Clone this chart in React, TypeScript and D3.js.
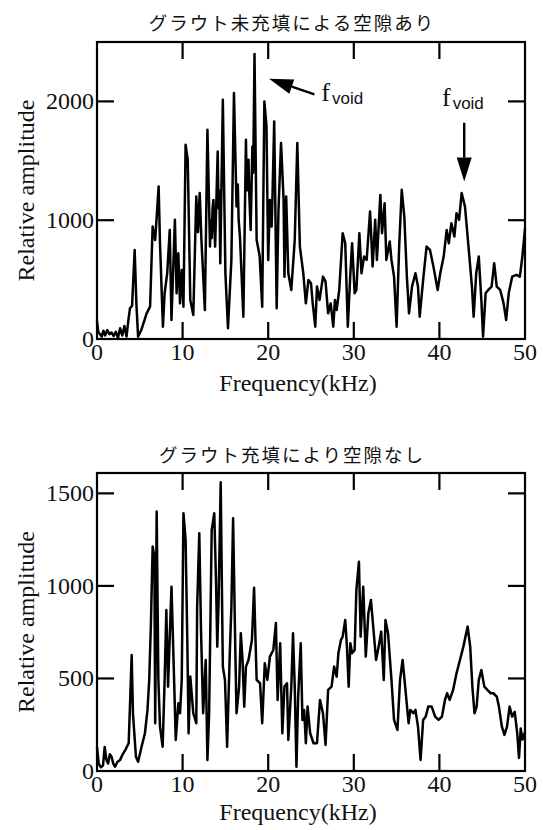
import React from "react";
import * as d3 from "d3";

const topFreq = [0.0,0.15,0.35,0.55,0.75,0.95,1.2,1.45,1.7,1.95,2.2,2.45,2.7,2.95,3.2,3.45,3.65,3.85,4.1,4.4,4.6,4.8,5.2,5.8,6.2,6.5,6.8,7.2,7.36,7.7,7.9,8.2,8.5,8.7,9.1,9.3,9.5,9.7,9.9,10.1,10.35,10.6,10.9,11.25,11.6,11.8,12.0,12.2,12.6,12.9,13.2,13.3,13.4,13.5,13.6,13.7,13.8,14.1,14.2,14.3,14.4,14.7,15.0,15.3,15.7,16.0,16.3,16.45,16.55,16.7,17.1,17.4,17.5,17.55,17.65,17.7,17.8,17.95,18.15,18.25,18.4,18.65,19.0,19.3,19.55,19.8,19.9,20.0,20.2,20.4,20.5,20.7,20.99,21.2,21.5,21.8,21.9,22.1,22.35,22.7,23.1,23.4,23.7,24.1,24.4,24.7,25.0,25.2,25.5,25.7,26.0,26.4,26.7,27.0,27.3,27.6,27.8,28.0,28.3,28.7,29.0,29.3,29.6,29.8,30.1,30.3,30.65,30.9,31.2,31.5,31.9,32.2,32.5,32.7,33.1,33.3,33.6,33.8,34.2,34.4,34.7,35.0,35.3,35.6,35.9,36.2,36.45,36.8,37.2,37.5,37.7,38.1,38.5,38.9,39.3,39.8,40.1,40.5,40.85,41.1,41.4,41.75,42.0,42.3,42.6,42.99,43.4,43.8,44.0,44.3,44.6,44.9,45.1,45.4,45.7,46.1,46.4,46.7,47.1,47.5,47.8,48.1,48.5,49.0,49.4,49.7,50.0];
const topAmp = [150,60,40,20,70,30,75,40,55,25,60,10,90,30,110,20,150,258,280,750,300,20,80,216,272,946,834,1284,806,104,385,553,918,160,1003,385,722,300,581,272,1635,1508,329,202,1199,900,1228,834,244,1761,778,1000,850,1100,1171,950,778,1579,1100,1250,638,2014,553,90,666,2070,1115,1300,1000,862,188,1677,1250,1500,1300,1508,1200,918,1620,1400,2400,834,700,272,2000,1789,1200,666,1171,946,1200,1831,258,1087,1649,1171,525,1199,553,413,834,1649,778,553,300,497,469,300,104,441,329,525,483,216,300,104,329,244,413,890,806,104,553,806,385,413,890,553,694,666,1073,610,1003,666,1213,890,1143,666,820,666,525,104,778,1256,1031,525,216,441,553,441,188,497,778,750,610,413,553,694,918,806,975,862,1059,1003,1228,1115,778,441,188,553,694,329,20,385,413,441,638,441,413,300,160,385,525,540,525,700,930];

const bottomFreq = [0.0,0.2,0.45,0.7,0.9,1.1,1.3,1.5,1.7,1.9,2.1,2.4,2.7,3.0,3.3,3.7,3.85,4.05,4.2,4.55,4.8,5.2,5.6,5.9,6.1,6.3,6.5,6.7,6.8,6.97,7.17,7.36,7.67,7.9,8.1,8.3,8.5,8.7,8.9,9.2,9.5,9.7,9.9,10.1,10.35,10.55,10.7,10.9,11.25,11.6,11.7,11.95,12.15,12.4,12.7,12.9,13.1,13.4,13.7,13.9,14.05,14.2,14.45,14.7,14.95,15.2,15.5,15.7,15.9,16.15,16.3,16.6,16.8,17.0,17.2,17.4,17.7,18.1,18.35,18.65,19.05,19.3,19.6,19.9,20.2,20.6,20.9,21.1,21.4,21.65,21.9,22.2,22.35,22.7,22.9,23.1,23.3,23.5,23.8,24.0,24.2,24.4,24.6,24.9,25.3,25.7,26.05,26.4,26.7,27.0,27.4,27.7,28.0,28.2,28.5,28.7,29.0,29.2,29.4,29.6,29.8,30.1,30.3,30.6,30.8,31.1,31.4,31.7,32.0,32.3,32.6,32.9,33.2,33.5,33.7,34.0,34.4,34.7,35.1,35.4,35.7,36.0,36.4,36.6,36.95,37.2,37.5,37.8,38.1,38.4,38.7,39.1,39.5,39.9,40.3,40.65,40.9,41.2,41.6,42.0,42.4,42.8,43.3,43.6,43.85,44.1,44.35,44.6,44.9,45.25,45.6,46.0,46.3,46.7,46.95,47.3,47.6,47.9,48.2,48.5,48.8,49.1,49.3,49.5,49.7,50.0];
const bottomAmp = [130,40,20,30,130,60,40,90,77,40,23,50,60,90,113,150,348,627,312,77,50,130,204,330,492,798,1213,1159,258,1402,492,240,131,492,870,456,726,996,672,168,366,312,492,1393,1249,708,204,510,312,258,888,1285,762,312,600,60,312,1303,1393,1032,672,906,1560,564,492,131,618,888,1366,672,312,456,744,600,348,564,600,708,990,492,474,258,582,492,618,654,800,384,690,204,456,474,168,456,744,456,23,402,690,276,330,150,348,204,150,150,384,312,141,438,456,564,510,636,708,726,816,672,456,690,636,654,978,1130,726,996,618,852,924,762,600,672,753,492,816,744,492,276,222,492,600,456,258,330,312,330,240,60,276,294,348,348,294,276,294,384,420,384,438,528,600,672,780,672,456,312,348,492,546,456,438,420,420,402,348,240,195,240,348,294,320,200,70,230,170,210];

const xTicks = [0, 10, 20, 30, 40, 50];
const topYTicks = [0, 1000, 2000];
const bottomYTicks = [0, 500, 1000, 1500];
const topTitle = "グラウト未充填による空隙あり";
const bottomTitle = "グラウト充填により空隙なし";
const xLabel = "Frequency(kHz)";
const yLabel = "Relative amplitude";
// annotation arrows in data units: [fromFreq, fromAmp, toFreq, toAmp]
const topArrows = [
  [25.4, 2060, 20.1, 2190],
  [42.9, 1820, 42.9, 1325],
];
// label anchor in data units
const topArrowLabels = [
  [26.2, 2000],
  [40.3, 1965],
];

const W = 543;
const H = 830;
const SERIF = "'Liberation Serif', 'DejaVu Serif', serif";
const CJK = "'Noto Sans CJK JP', sans-serif";

type PanelProps = {
  top: number;
  bottom: number;
  yMax: number;
  yTicks: number[];
  freq: number[];
  amp: number[];
  title: string;
  titleY: number;
  xLabelY: number;
  yLabelX: number;
  arrows?: number[][];
  arrowLabels?: number[][];
};

function Arrow({ x1, y1, x2, y2 }: { x1: number; y1: number; x2: number; y2: number }) {
  const dx = x2 - x1;
  const dy = y2 - y1;
  const len = Math.sqrt(dx * dx + dy * dy);
  const ux = dx / len;
  const uy = dy / len;
  const headLen = 24;
  const halfW = 7.5;
  const bx = x2 - ux * headLen;
  const by = y2 - uy * headLen;
  const pts = [
    [x2, y2],
    [bx - uy * halfW, by + ux * halfW],
    [bx + uy * halfW, by - ux * halfW],
  ];
  return (
    <g>
      <line x1={x1} y1={y1} x2={bx} y2={by} stroke="#000" strokeWidth={2.4} />
      <polygon points={pts.map((p) => p.join(",")).join(" ")} fill="#000" />
    </g>
  );
}

function Panel(p: PanelProps) {
  const left = 97;
  const right = 525;
  const x = d3.scaleLinear().domain([0, 50]).range([left, right]);
  const y = d3.scaleLinear().domain([0, p.yMax]).range([p.bottom, p.top]);
  const line = d3
    .line<number>()
    .x((_, i) => x(p.freq[i]))
    .y((_, i) => y(p.amp[i]))
    .curve(d3.curveLinear);
  const tickLen = 17;
  const midY = (p.top + p.bottom) / 2;
  return (
    <g>
      <text
        x={292}
        y={p.titleY}
        textAnchor="middle"
        fontFamily={CJK}
        fontSize={18.5}
        letterSpacing={2}
        fill="#111"
      >
        {p.title}
      </text>
      <path d={line(p.amp) || ""} fill="none" stroke="#000" strokeWidth={2.5} strokeLinejoin="round" />
      <rect
        x={left}
        y={p.top}
        width={right - left}
        height={p.bottom - p.top}
        fill="none"
        stroke="#000"
        strokeWidth={2.2}
      />
      {xTicks.slice(1, -1).map((t) => (
        <g key={"xt" + t}>
          <line x1={x(t)} x2={x(t)} y1={p.bottom} y2={p.bottom - tickLen} stroke="#000" strokeWidth={2.2} />
          <line x1={x(t)} x2={x(t)} y1={p.top} y2={p.top + tickLen} stroke="#000" strokeWidth={2.2} />
        </g>
      ))}
      {p.yTicks.slice(1).map((t) => (
        <g key={"yt" + t}>
          <line x1={left} x2={left + tickLen} y1={y(t)} y2={y(t)} stroke="#000" strokeWidth={2.2} />
          <line x1={right} x2={right - tickLen} y1={y(t)} y2={y(t)} stroke="#000" strokeWidth={2.2} />
        </g>
      ))}
      {xTicks.map((t) => (
        <text
          key={"xl" + t}
          x={x(t)}
          y={p.bottom + 21}
          textAnchor="middle"
          fontFamily={SERIF}
          fontSize={24}
          fill="#111"
        >
          {t}
        </text>
      ))}
      {p.yTicks.map((t) => (
        <text
          key={"yl" + t}
          x={left - 3}
          y={y(t) + 8}
          textAnchor="end"
          fontFamily={SERIF}
          fontSize={24}
          fill="#111"
        >
          {t}
        </text>
      ))}
      <text
        x={298}
        y={p.xLabelY}
        textAnchor="middle"
        fontFamily={SERIF}
        fontSize={24}
        fill="#111"
      >
        {xLabel}
      </text>
      <text
        transform={`translate(${p.yLabelX},${midY}) rotate(-90)`}
        textAnchor="middle"
        fontFamily={SERIF}
        fontSize={24}
        fill="#111"
      >
        {yLabel}
      </text>
      {(p.arrows || []).map((a, i) => (
        <Arrow key={"ar" + i} x1={x(a[0])} y1={y(a[1])} x2={x(a[2])} y2={y(a[3])} />
      ))}
      {(p.arrowLabels || []).map((l, i) => (
        <text key={"al" + i} x={x(l[0])} y={y(l[1])} fontFamily={SERIF} fontSize={26} fill="#111">
          f
          <tspan fontFamily="'Liberation Sans', sans-serif" fontSize={17} dx={2} dy={3}>
            void
          </tspan>
        </text>
      ))}
    </g>
  );
}

export default function App() {
  return (
    <svg
      width={W}
      height={H}
      viewBox={`0 0 ${W} ${H}`}
      style={{ position: "absolute", left: 0, top: 0, background: "#fff" }}
    >
      <rect x={0} y={0} width={W} height={H} fill="#fff" />
      <Panel
        top={42}
        bottom={339}
        yMax={2500}
        yTicks={topYTicks}
        freq={topFreq}
        amp={topAmp}
        title={topTitle}
        titleY={30}
        xLabelY={391}
        yLabelX={34}
        arrows={topArrows}
        arrowLabels={topArrowLabels}
      />
      <Panel
        top={473}
        bottom={771}
        yMax={1610}
        yTicks={bottomYTicks}
        freq={bottomFreq}
        amp={bottomAmp}
        title={bottomTitle}
        titleY={462}
        xLabelY={820}
        yLabelX={34}
      />
    </svg>
  );
}
